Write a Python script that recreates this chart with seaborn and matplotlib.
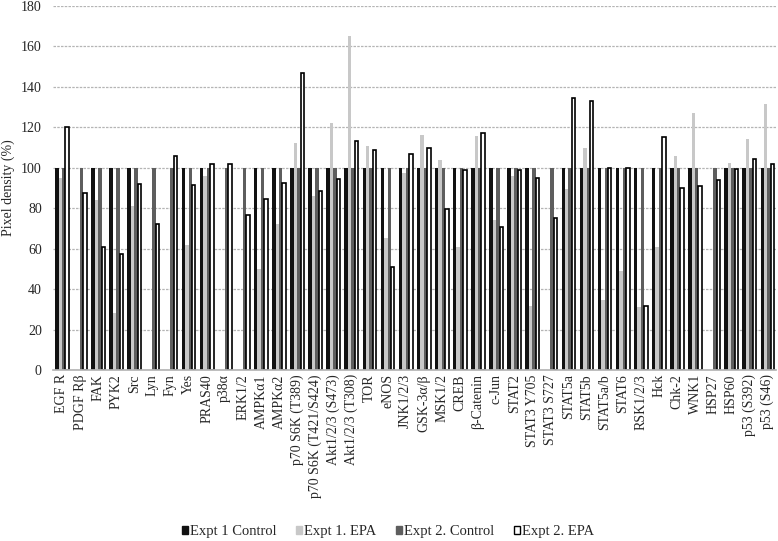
import numpy as np
import pandas as pd
import matplotlib
matplotlib.use("Agg")
import matplotlib.pyplot as plt
import seaborn as sns
from matplotlib.patches import Patch

# data
proteins = ["EGF R", "PDGF Rβ", "FAK", "PYK2", "Src", "Lyn", "Fyn", "Yes", "PRAS40",
            "p38α", "ERK1/2", "AMPKα1", "AMPKα2", "p70 S6K (T389)",
            "p70 S6K (T421/S424)", "Akt1/2/3 (S473)", "Akt1/2/3 (T308)", "TOR",
            "eNOS", "JNK1/2/3", "GSK-3α/β", "MSK1/2", "CREB", "β-Catenin", "c-Jun",
            "STAT2", "STAT3 Y705", "STAT3 S727", "STAT5a", "STAT5b", "STAT5a/b",
            "STAT6", "RSK1/2/3", "Hck", "Chk-2", "WNK1", "HSP27", "HSP60",
            "p53 (S392)", "p53 (S46)"]

nan = np.nan
expt1_control = [100, nan, 100, 100, 100, nan, nan, 100, 100, nan,
                 nan, 100, 100, 100, 100, 100, 100, 100, 100, 100,
                 100, 100, 100, 100, 100, 100, 100, nan, 100, 100,
                 100, 100, 100, 100, 100, 100, nan, 100, 100, 100]
expt1_epa = [95, nan, 84, 28, 81, nan, nan, 62, 96, nan,
             nan, 50, 72, 112, 86, 122, 165, 111, 65.5, 97.5,
             116, 104, 61, 115.5, 74, 96, 31.5, nan, 89.5, 110,
             34.5, 49, 31.3, 61, 106, 127, nan, 102.5, 114, 131.5]
expt2_control = [100] * 40
expt2_epa = [120, 87.7, 61, 57.5, 92, 72, 106, 91.5, 102, 102,
             76.5, 84.5, 92.5, 147, 88.5, 94.5, 113, 109, 51, 107,
             110, 79.5, 99, 117, 70.5, 99, 95, 75, 134.5, 133,
             100, 100, 31.7, 115, 90, 91, 94, 99.5, 104.5, 102]

series = ["Expt 1 Control", "Expt 1. EPA", "Expt 2. Control", "Expt 2. EPA"]
colors = ["#111111", "#c8c8c8", "#5e5e5e", "#ffffff"]

df = pd.DataFrame({
    "protein": proteins * 4,
    "series": np.repeat(series, len(proteins)),
    "density": expt1_control + expt1_epa + expt2_control + expt2_epa,
})

sns.set_theme(style="white")
plt.rcParams["font.family"] = ["Liberation Serif", "DejaVu Serif"]

fig = plt.figure(figsize=(7.78, 5.41), dpi=100)
ax = fig.add_axes([0.068, 0.316, 0.930, 0.673])

ax.yaxis.grid(True, linestyle=(0, (2, 1)), color="#b5b5b5", linewidth=0.9)
ax.set_axisbelow(True)

sns.barplot(data=df, x="protein", y="density", hue="series", order=proteins,
            hue_order=series, palette=colors, width=0.76, ax=ax, legend=False,
            errorbar=None, saturation=1)

# last series: white bars with black outline
for cont, c in zip(ax.containers, colors):
    for bar in cont:
        if c == "#ffffff":
            bar.set_edgecolor("black")
            bar.set_linewidth(1.2)
        else:
            bar.set_edgecolor(c)
            bar.set_linewidth(0)

ax.set_ylim(0, 180)
ax.set_yticks(range(0, 181, 20))
ax.set_xlim(-0.5, len(proteins) - 0.5)
ax.set_xlabel("")
ax.set_ylabel("Pixel density (%)", fontsize=10)
ax.tick_params(axis="y", length=0, pad=8, labelsize=10)
ax.tick_params(axis="x", length=0, pad=3, labelsize=10)
plt.setp(ax.get_xticklabels(), rotation=90)

for s in ["left", "top", "right"]:
    ax.spines[s].set_visible(False)
ax.spines["bottom"].set_color("#b5b5b5")

handles = [Patch(facecolor=c, edgecolor="black" if c == "#ffffff" else c, label=s)
           for s, c in zip(series, colors)]
fig.legend(handles=handles, loc="center", bbox_to_anchor=(0.499, 0.017), ncol=4,
           frameon=False, fontsize=10.5, handlelength=0.4, handleheight=0.4,
           handletextpad=0.15, columnspacing=1.35, borderpad=0)

fig.savefig("out.png", dpi=100)
